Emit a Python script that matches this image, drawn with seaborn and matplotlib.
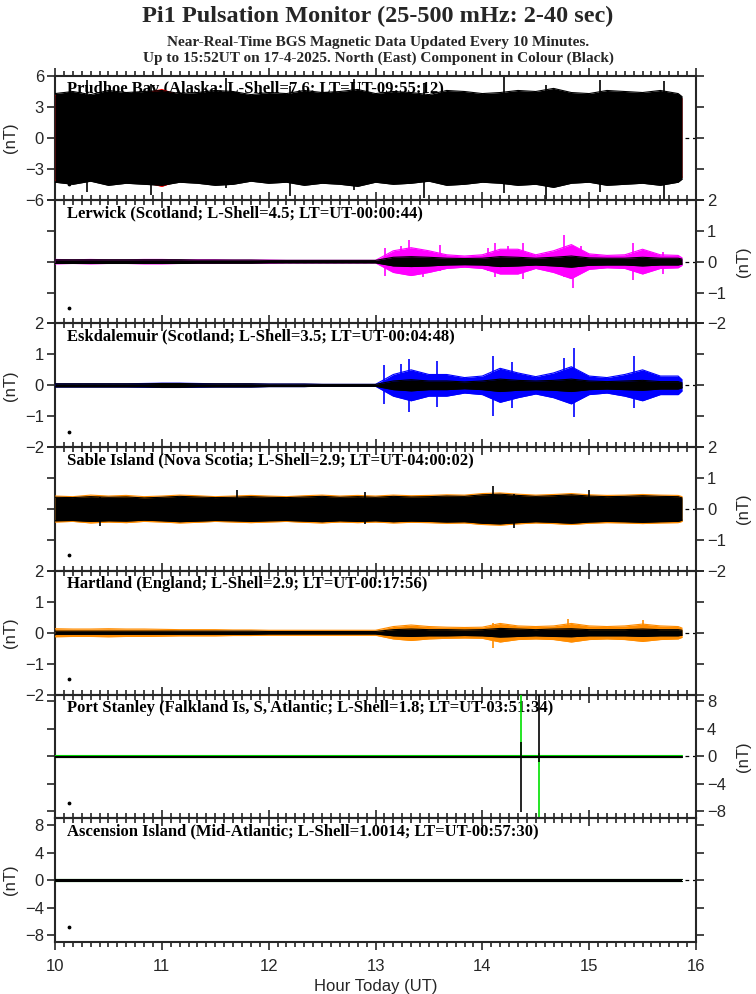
import numpy as np
import pandas as pd
import seaborn as sns
import matplotlib.pyplot as plt
from matplotlib.ticker import MultipleLocator

# sample times: every 10 minutes from 10:00 plus the last update at 15:52
hours = list(10 + np.arange(36) / 6) + [15.87]

stations = [
    'Prudhoe Bay (Alaska; L-Shell=7.6; LT=UT-09:55:12)',
    'Lerwick (Scotland; L-Shell=4.5; LT=UT-00:00:44)',
    'Eskdalemuir (Scotland; L-Shell=3.5; LT=UT-00:04:48)',
    'Sable Island (Nova Scotia; L-Shell=2.9; LT=UT-04:00:02)',
    'Hartland (England; L-Shell=2.9; LT=UT-00:17:56)',
    'Port Stanley (Falkland Is, S, Atlantic; L-Shell=1.8; LT=UT-03:51:34)',
    'Ascension Island (Mid-Atlantic; L-Shell=1.0014; LT=UT-00:57:30)',
]
colours = ['red', 'magenta', 'blue', '#ff8c00', '#ff8c00', '#00e000', '#00e000']
ylims = [6, 2, 2, 2, 2, 9, 9]
yticks = [[-6, -3, 0, 3, 6], [-2, -1, 0, 1, 2], [-2, -1, 0, 1, 2], [-2, -1, 0, 1, 2],
          [-2, -1, 0, 1, 2], [-8, -4, 0, 4, 8], [-8, -4, 0, 4, 8]]
label_side = ['left', 'right', 'left', 'right', 'left', 'right', 'left']

# typical amplitude (nT) per 10-minute block, north component (colour) and east (black)
prudhoe_n = [4.1, 4.3, 4.0, 4.4, 4.2, 4.3, 4.7, 4.1, 4.2, 4.4, 4.3, 4.0, 4.2, 4.1, 4.4, 4.2, 4.3, 4.5, 4.1,
             4.3, 4.2, 4.0, 4.4, 4.3, 4.1, 4.2, 4.4, 4.3, 4.6, 4.2, 4.1, 4.4, 4.3, 4.2, 4.4, 4.1, 3.8]
prudhoe_e = [4.3, 4.5, 4.2, 4.6, 4.4, 4.5, 4.6, 4.3, 4.4, 4.6, 4.5, 4.2, 4.4, 4.3, 4.6, 4.4, 4.5, 4.7, 4.3,
             4.5, 4.4, 4.2, 4.6, 4.5, 4.3, 4.4, 4.6, 4.5, 4.8, 4.4, 4.3, 4.6, 4.5, 4.4, 4.6, 4.3, 4.0]
lerwick_n = [0.07, 0.06, 0.07, 0.06, 0.06, 0.07, 0.07, 0.06, 0.06, 0.06, 0.05, 0.05, 0.05, 0.04, 0.04, 0.04,
             0.04, 0.04, 0.04, 0.35, 0.45, 0.35, 0.22, 0.18, 0.22, 0.4, 0.4, 0.22, 0.35, 0.55, 0.25, 0.2,
             0.22, 0.4, 0.22, 0.2, 0.12]
lerwick_e = [0.06, 0.06, 0.06, 0.06, 0.06, 0.06, 0.06, 0.06, 0.05, 0.05, 0.05, 0.05, 0.04, 0.04, 0.04, 0.04,
             0.04, 0.04, 0.04, 0.14, 0.16, 0.14, 0.11, 0.1, 0.11, 0.16, 0.14, 0.11, 0.14, 0.18, 0.12, 0.11,
             0.11, 0.14, 0.11, 0.11, 0.08]
eskdale_n = [0.05, 0.05, 0.05, 0.05, 0.05, 0.06, 0.07, 0.07, 0.06, 0.05, 0.05, 0.05, 0.04, 0.04, 0.04, 0.03,
             0.03, 0.03, 0.03, 0.35, 0.5, 0.35, 0.35, 0.25, 0.3, 0.55, 0.4, 0.28, 0.4, 0.6, 0.3, 0.25,
             0.35, 0.5, 0.3, 0.3, 0.18]
eskdale_e = [0.05, 0.05, 0.05, 0.05, 0.05, 0.05, 0.06, 0.06, 0.05, 0.05, 0.05, 0.05, 0.04, 0.04, 0.04, 0.03,
             0.03, 0.03, 0.03, 0.14, 0.18, 0.14, 0.14, 0.11, 0.14, 0.2, 0.16, 0.14, 0.16, 0.2, 0.14, 0.12,
             0.14, 0.16, 0.12, 0.12, 0.08]
sable_n = [0.42, 0.4, 0.45, 0.42, 0.44, 0.4, 0.42, 0.45, 0.43, 0.4, 0.42, 0.44, 0.42, 0.4, 0.43, 0.45, 0.42,
           0.44, 0.42, 0.45, 0.43, 0.44, 0.46, 0.45, 0.5, 0.52, 0.48, 0.45, 0.47, 0.5, 0.46, 0.44, 0.45,
           0.47, 0.45, 0.44, 0.4]
sable_e = [0.38, 0.37, 0.4, 0.38, 0.39, 0.36, 0.38, 0.41, 0.39, 0.37, 0.38, 0.4, 0.38, 0.37, 0.39, 0.41, 0.38,
           0.4, 0.38, 0.41, 0.39, 0.4, 0.42, 0.41, 0.46, 0.48, 0.44, 0.41, 0.43, 0.46, 0.42, 0.4, 0.41,
           0.43, 0.41, 0.4, 0.36]
hartland_n = [0.13, 0.12, 0.12, 0.13, 0.12, 0.12, 0.11, 0.1, 0.1, 0.1, 0.09, 0.09, 0.08, 0.08, 0.08, 0.08,
              0.08, 0.08, 0.08, 0.2, 0.25, 0.2, 0.18, 0.17, 0.18, 0.3, 0.22, 0.2, 0.22, 0.3, 0.22, 0.2,
              0.22, 0.28, 0.22, 0.2, 0.15]
hartland_e = [0.05, 0.05, 0.05, 0.05, 0.05, 0.05, 0.05, 0.05, 0.05, 0.05, 0.05, 0.05, 0.04, 0.04, 0.04, 0.04,
              0.04, 0.04, 0.04, 0.1, 0.12, 0.1, 0.1, 0.09, 0.1, 0.14, 0.12, 0.1, 0.12, 0.13, 0.1, 0.1, 0.1,
              0.12, 0.1, 0.1, 0.08]
stanley_n = [0.14] * 37
stanley_e = [0.12] * 37
ascension_n = [0.14] * 37
ascension_e = [0.12] * 37

north = [prudhoe_n, lerwick_n, eskdale_n, sable_n, hartland_n, stanley_n, ascension_n]
east = [prudhoe_e, lerwick_e, eskdale_e, sable_e, hartland_e, stanley_e, ascension_e]

# single large excursions (hour, low, high)
prudhoe_spk = [(10.3, -5.2, 5.6), (10.9, -5.5, 5.2), (11.6, -4.9, 5.8), (12.2, -5.6, 5.0),
               (12.8, -5.1, 5.7), (13.45, -5.8, 5.3), (14.2, -5.3, 5.9), (14.6, -5.9, 5.1),
               (15.1, -5.2, 5.6), (15.7, -5.9, 5.5)]
lerwick_spk = [(13.09, -0.45, 0.45), (13.24, -0.3, 0.5), (13.31, -0.4, 0.71), (13.44, -0.5, 0.3),
               (13.60, -0.3, 0.55), (14.05, -0.3, 0.45), (14.12, -0.5, 0.6), (14.24, -0.3, 0.5),
               (14.38, -0.55, 0.6), (14.76, -0.5, 0.85), (14.85, -0.85, 0.5), (14.92, -0.3, 0.5),
               (15.41, -0.6, 0.6), (15.69, -0.4, 0.3)]
eskdale_spk = [(13.08, -0.59, 0.66), (13.24, -0.4, 0.7), (13.31, -0.87, 0.85), (13.58, -0.7, 0.8),
               (14.10, -0.98, 0.94), (14.28, -0.72, 0.76), (14.76, -0.5, 0.88), (14.86, -1.04, 1.2),
               (15.42, -0.72, 0.94)]
sable_spk = [(10.42, -0.55, 0.4), (11.7, -0.4, 0.6), (12.9, -0.5, 0.55), (14.1, -0.5, 0.75),
             (14.3, -0.6, 0.5), (15.0, -0.4, 0.6)]
hartland_spk = [(14.1, -0.5, 0.3), (14.8, -0.3, 0.45), (15.5, -0.3, 0.4)]
stanley_spk_n = [(14.36, 0.0, 12.0), (14.53, -12.0, 0.5)]
stanley_spk_e = [(14.36, -8.1, 2.1), (14.53, -0.8, 12.0)]
spikes_n = [[], lerwick_spk, eskdale_spk, [], hartland_spk, stanley_spk_n, []]
spikes_e = [prudhoe_spk, [], [], sable_spk, [], stanley_spk_e, []]
marker_val = [-4.5, -1.5, -1.5, -1.5, -1.5, -6.75, -6.75]

sns.set_theme(style='ticks')
plt.rcParams['font.family'] = ['Liberation Sans', 'DejaVu Sans']
plt.rcParams['axes.linewidth'] = 1.5

fig = plt.figure(figsize=(7.56, 9.94), dpi=100)
gs = fig.add_gridspec(7, 1, left=0.0728, right=0.9206, top=0.9235, bottom=0.0523, hspace=0)
serif = ['Liberation Serif', 'DejaVu Serif']

for i in range(7):
    ax = fig.add_subplot(gs[i])
    ax.set_facecolor('none')
    df = pd.DataFrame({'hour': hours, 'n': north[i], 'e': east[i]})
    ax.axhline(0, color='black', lw=0.9, ls=(0, (3, 3)), zorder=1)
    ax.text(10.11, ylims[i] * 0.72, stations[i], family=serif, fontweight='bold',
            fontsize=12, color='black', zorder=2)
    ax.fill_between(df.hour, -df.n, df.n, color=colours[i], lw=0, zorder=3)
    sns.lineplot(x=df.hour, y=df.n, color=colours[i], lw=0.8, ax=ax, zorder=3)
    sns.lineplot(x=df.hour, y=-df.n, color=colours[i], lw=0.8, ax=ax, zorder=3)
    for h, lo, hi in spikes_n[i]:
        ax.vlines(h, lo, hi, color=colours[i], lw=1.2, zorder=3)
    ax.fill_between(df.hour, -df.e, df.e, color='black', lw=0, zorder=4)
    sns.lineplot(x=df.hour, y=df.e, color='black', lw=0.8, ax=ax, zorder=4)
    sns.lineplot(x=df.hour, y=-df.e, color='black', lw=0.8, ax=ax, zorder=4)
    for h, lo, hi in spikes_e[i]:
        ax.vlines(h, lo, hi, color='black', lw=1.2, zorder=4)
    ax.scatter([10.13], [marker_val[i]], s=3, color='black', zorder=5)

    ax.set_xlim(10, 16)
    ax.set_ylim(-ylims[i], ylims[i])
    ax.set_yticks(yticks[i])
    ax.xaxis.set_major_locator(MultipleLocator(1))
    ax.xaxis.set_minor_locator(MultipleLocator(1 / 12))
    ax.tick_params(axis='x', which='both', direction='out', top=True, bottom=True,
                   labelbottom=(i == 6), labelsize=12, width=1.2, pad=6)
    ax.tick_params(axis='x', which='major', length=6)
    ax.tick_params(axis='x', which='minor', length=3.5)
    ax.tick_params(axis='y', direction='out', left=True, right=True, length=6, width=1.2,
                   labelleft=(label_side[i] == 'left'), labelright=(label_side[i] == 'right'),
                   labelsize=12, pad=2)
    ax.set_xlabel('Hour Today (UT)' if i == 6 else '', fontsize=12, labelpad=4)
    ax.set_ylabel('(nT)', fontsize=12)
    if label_side[i] == 'right':
        ax.yaxis.set_label_position('right')
        ax.yaxis.set_label_coords(1.062, 0.5)
    else:
        ax.yaxis.set_label_coords(-0.058, 0.5)
    for s in ax.spines.values():
        s.set_visible(True)

fig.text(0.5, 0.983, 'Pi1 Pulsation Monitor (25-500 mHz: 2-40 sec)', ha='center', va='center',
         family=serif, fontweight='bold', fontsize=17.5)
fig.text(0.5, 0.9572, 'Near-Real-Time BGS Magnetic Data Updated Every 10 Minutes.', ha='center',
         va='center', family=serif, fontweight='bold', fontsize=11)
fig.text(0.5, 0.9418, 'Up to 15:52UT on 17-4-2025. North (East) Component in Colour (Black)', ha='center',
         va='center', family=serif, fontweight='bold', fontsize=11)

fig.savefig('out.png', dpi=100)
